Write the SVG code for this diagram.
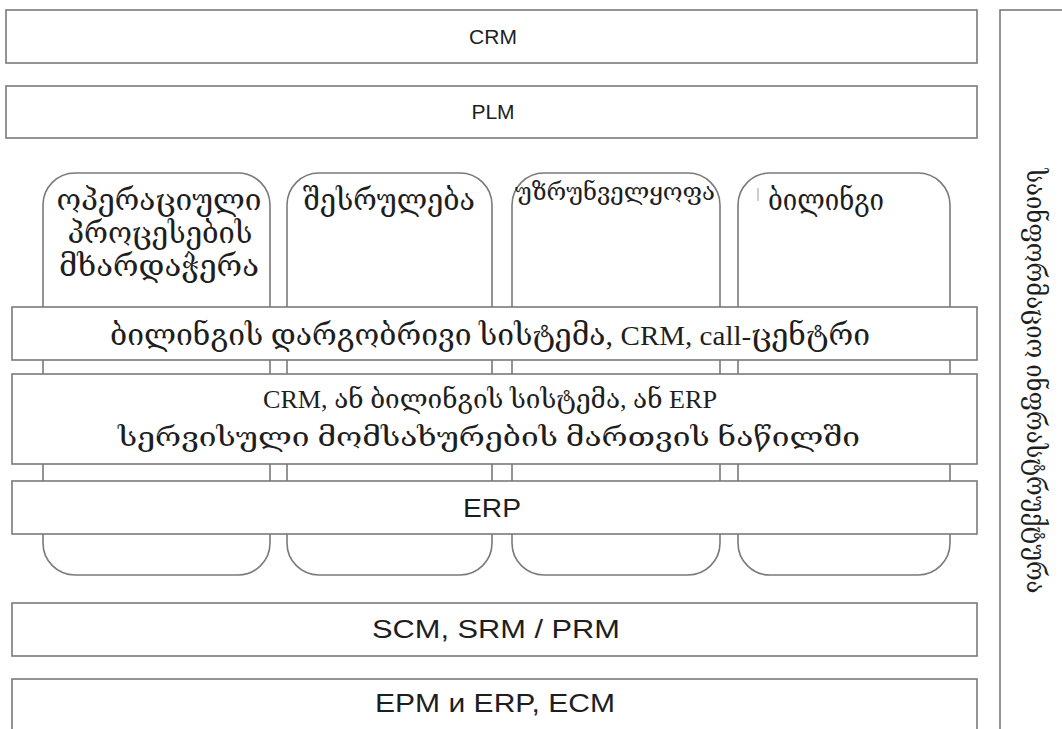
<svg xmlns="http://www.w3.org/2000/svg" width="1062" height="729" viewBox="0 0 1062 729">
<style>
.box{fill:#fff;stroke:#7a7a7a;stroke-width:1.6}
.sans{font-family:"Liberation Sans",Arial,sans-serif;fill:#1e1e1e;text-anchor:middle}
.geo{font-family:"Liberation Serif","DejaVu Serif","Noto Sans",serif;fill:#1e1e1e;text-anchor:middle;font-size:29px}
.lat{font-size:28px}
</style>
<rect width="1062" height="729" fill="#fff"/>
<g id="crm"><rect class="box" x="6" y="10" width="971" height="53"/><text class="sans" x="493" y="44" font-size="21">CRM</text></g>
<g id="plm"><rect class="box" x="6" y="86" width="971" height="52"/><text class="sans" x="493" y="119" font-size="21">PLM</text></g>
<g id="right"><rect class="box" x="1000" y="10" width="80" height="740"/><text class="geo" transform="translate(1027,381) rotate(90)" style="font-size:26px" textLength="425" lengthAdjust="spacingAndGlyphs">საინფორმაციო ინფრასტრუქტურა</text></g>
<g id="col1"><rect class="box" x="43" y="173" width="227" height="402" rx="32"/>
<text class="geo" x="159" y="210" textLength="205" lengthAdjust="spacingAndGlyphs">ოპერაციული</text>
<text class="geo" x="160" y="243" textLength="185" lengthAdjust="spacingAndGlyphs">პროცესების</text>
<text class="geo" x="159" y="276" textLength="200" lengthAdjust="spacingAndGlyphs">მხარდაჭერა</text></g>
<g id="col2"><rect class="box" x="287" y="173" width="205" height="402" rx="32"/><text class="geo" x="389" y="210" textLength="172" lengthAdjust="spacingAndGlyphs">შესრულება</text></g>
<g id="col3"><rect class="box" x="512" y="173" width="208" height="402" rx="32"/><text class="geo" x="615" y="200" style="font-size:24px" textLength="200" lengthAdjust="spacingAndGlyphs">უზრუნველყოფა</text></g>
<g id="col4"><rect class="box" x="738" y="173" width="212" height="402" rx="32"/><line x1="758" y1="188" x2="758" y2="201" stroke="#9a9a9a" stroke-width="1"/><text class="geo" x="826" y="210" textLength="116" lengthAdjust="spacingAndGlyphs">ბილინგი</text></g>
<g id="band1"><rect class="box" x="12" y="307" width="965" height="53"/><text class="geo" x="490" y="345" textLength="760" lengthAdjust="spacingAndGlyphs">ბილინგის დარგობრივი სისტემა, <tspan class="lat">CRM, call-</tspan>ცენტრი</text></g>
<g id="band2"><rect class="box" x="12" y="374" width="965" height="90"/>
<text class="geo" x="490" y="408" style="font-size:26px" textLength="454" lengthAdjust="spacingAndGlyphs">CRM, ან ბილინგის სისტემა, ან ERP</text>
<text class="geo" x="489" y="446" style="font-size:26px" textLength="742" lengthAdjust="spacingAndGlyphs">სერვისული მომსახურების მართვის ნაწილში</text></g>
<g id="erp"><rect class="box" x="12" y="481" width="965" height="53"/><text class="sans" x="492" y="517" font-size="26" textLength="58" lengthAdjust="spacingAndGlyphs">ERP</text></g>
<g id="scm"><rect class="box" x="12" y="603" width="965" height="53"/><text class="sans" x="496" y="638" font-size="26" textLength="248" lengthAdjust="spacingAndGlyphs">SCM, SRM / PRM</text></g>
<g id="epm"><rect class="box" x="12" y="679" width="965" height="70"/><text class="sans" x="495" y="712" font-size="26" textLength="240" lengthAdjust="spacingAndGlyphs">EPM и ERP, ECM</text></g>
<g id="connectors"/>
</svg>
